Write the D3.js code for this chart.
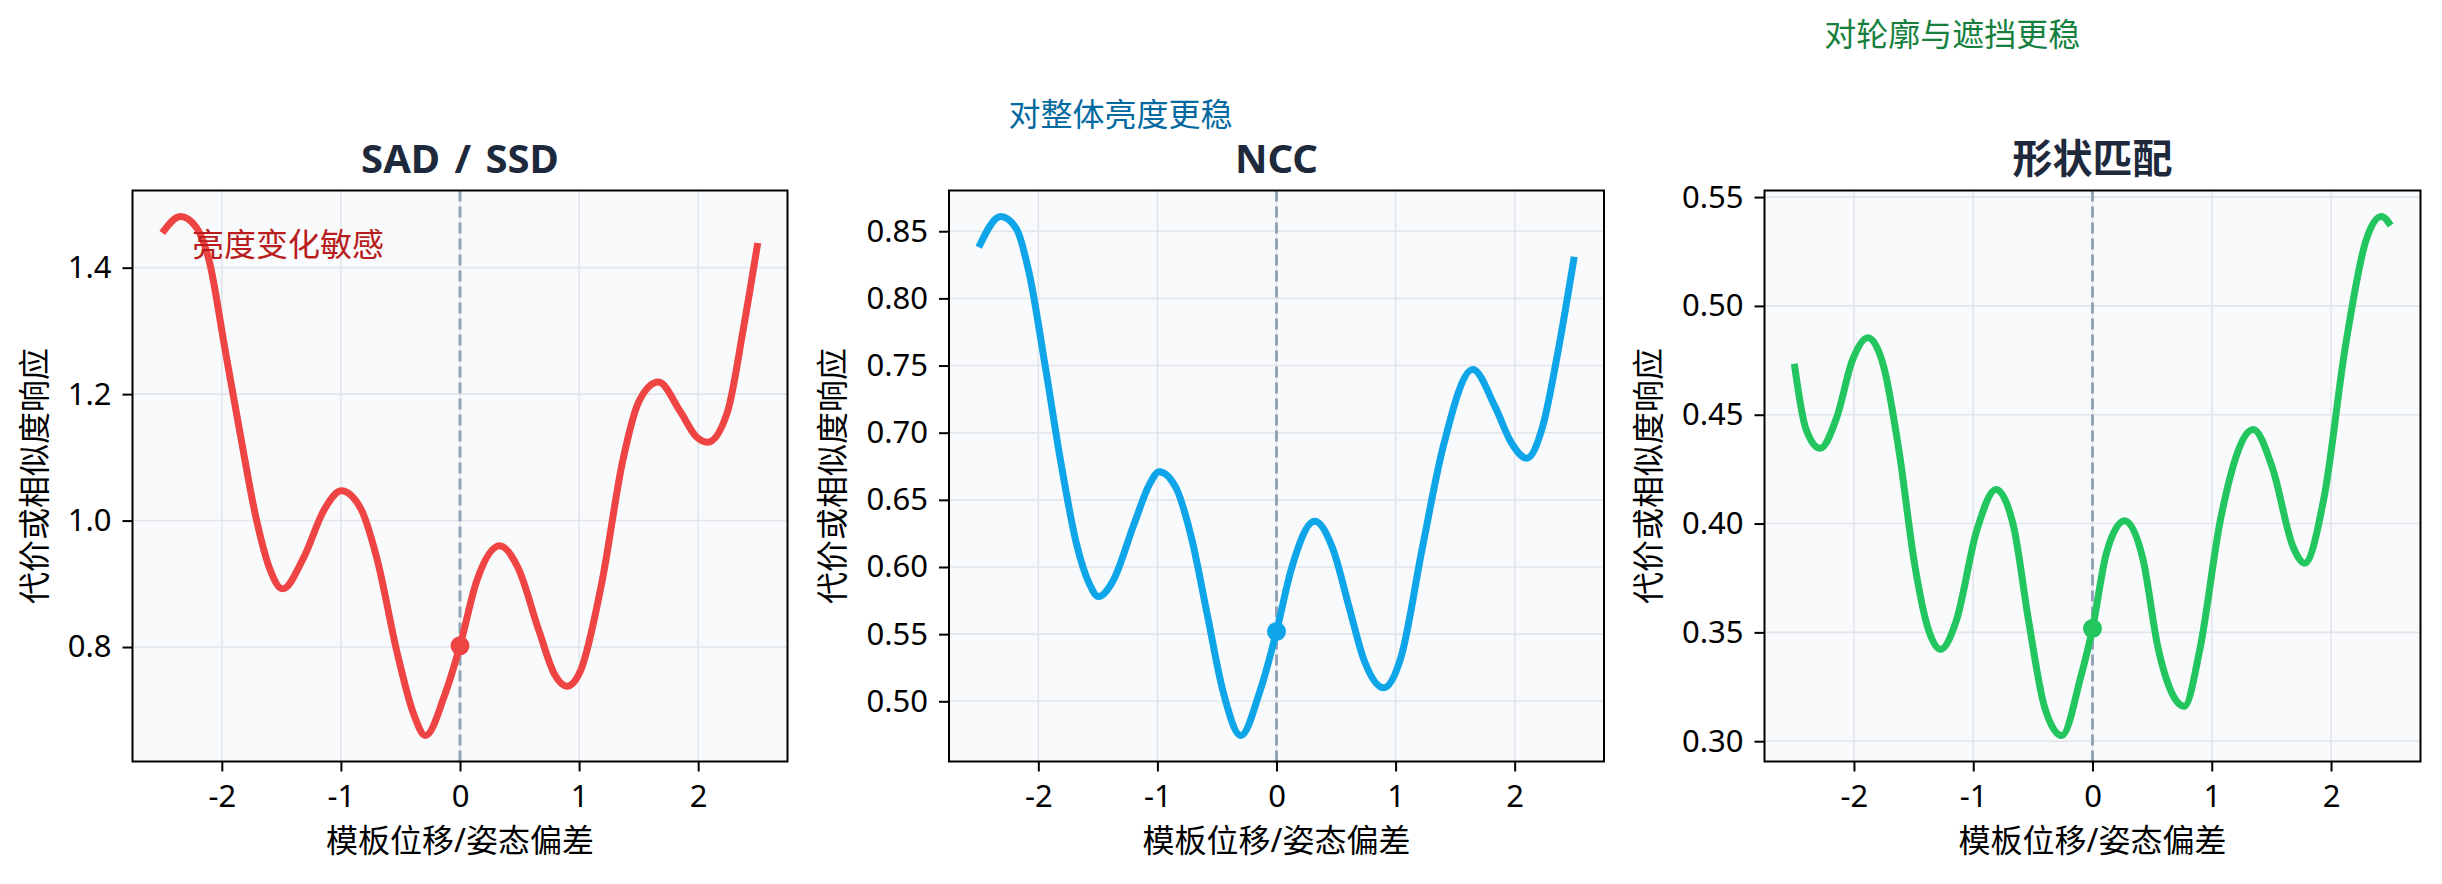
<!DOCTYPE html>
<html lang="zh">
<head>
    <meta charset="UTF-8">
    <title>匹配代价曲线</title>
    <script src="https://d3js.org/d3.v7.min.js"></script>
    <style>
        body { margin: 0; background: #fff; }
        text { font-family: "Noto Sans", "Noto Sans CJK SC", sans-serif; }
    </style>
</head>
<body>
<script>
    const width  = 2442;
    const height = 884;

    // values
    const xTicks = [-2, -1, 0, 1, 2];

    const sadX = [-2.5, -2.347, -2.215, -2.105, -1.974, -1.842, -1.71, -1.6, -1.49, -1.314, -1.138, -0.998,
                  -0.831, -0.699, -0.523, -0.391, -0.29, -0.127, 0, 0.136, 0.334, 0.488, 0.664, 0.796, 0.897,
                  1.015, 1.191, 1.367, 1.499, 1.666, 1.851, 1.982, 2.079, 2.246, 2.378, 2.5];
    const sadY = [1.455, 1.481, 1.464, 1.41, 1.272, 1.133, 1.002, 0.925, 0.892, 0.941, 1.018, 1.047,
                  1.018, 0.941, 0.787, 0.695, 0.66, 0.725, 0.802, 0.902, 0.96, 0.925, 0.825, 0.756, 0.738,
                  0.764, 0.902, 1.095, 1.187, 1.219, 1.172, 1.133, 1.124, 1.172, 1.302, 1.439];

    const nccX = [-2.5, -2.316, -2.185, -2.075, -1.943, -1.811, -1.679, -1.569, -1.495, -1.371, -1.196, -1.064,
                  -0.985, -0.844, -0.712, -0.58, -0.448, -0.299, -0.141, 0, 0.123, 0.321, 0.475, 0.607, 0.738,
                  0.901, 1.046, 1.222, 1.398, 1.648, 1.837, 1.969, 2.101, 2.233, 2.365, 2.5];
    const nccY = [0.838, 0.861, 0.852, 0.818, 0.75, 0.678, 0.617, 0.587, 0.578, 0.59, 0.632, 0.662,
                  0.671, 0.659, 0.621, 0.564, 0.507, 0.4745, 0.507, 0.552, 0.598, 0.634, 0.613, 0.571, 0.53,
                  0.51, 0.533, 0.613, 0.689, 0.747, 0.719, 0.693, 0.681, 0.704, 0.761, 0.831];

    const shapeX = [-2.5, -2.404, -2.283, -2.143, -2.013, -1.883, -1.752, -1.622, -1.491, -1.383, -1.274, -1.143,
                    -0.97, -0.809, -0.665, -0.535, -0.404, -0.257, -0.1, 0, 0.117, 0.27, 0.422, 0.552, 0.77,
                    0.9, 1.074, 1.348, 1.509, 1.683, 1.778, 1.943, 2.117, 2.291, 2.422, 2.5];
    const shapeY = [0.4734, 0.4437, 0.4346, 0.449, 0.475, 0.4854, 0.4724, 0.4333, 0.3812, 0.3526, 0.3422, 0.3552,
                    0.3969, 0.4156, 0.3995, 0.3552, 0.3161, 0.3026, 0.3292, 0.3518, 0.3865, 0.4013, 0.3839, 0.3422, 0.3161,
                    0.3422, 0.4021, 0.4432, 0.4255, 0.3891, 0.3818, 0.4125, 0.4802, 0.5297, 0.5411, 0.537];

    const titles  = ["SAD / SSD", "NCC", "形状匹配"];
    const notes   = ["亮度变化敏感", "对整体亮度更稳", "对轮廓与遮挡更稳"];
    const noteX   = [-2.25, -2.25, -2.25];
    const noteY   = [1.436, 0.937, 0.6245];
    const yTicks1 = [0.8, 1.0, 1.2, 1.4];
    const yTicks2 = [0.50, 0.55, 0.60, 0.65, 0.70, 0.75, 0.80, 0.85];
    const yTicks3 = [0.30, 0.35, 0.40, 0.45, 0.50, 0.55];

    const xLabel = "模板位移/姿态偏差";
    const yLabel = "代价或相似度响应";

    const panels = [
        {xs: sadX,   ys: sadY,   ticks: yTicks1, fmt: ".1f", color: "#ef4444", noteColor: "#b91c1c", left: 132.5,  right: 787.5},
        {xs: nccX,   ys: nccY,   ticks: yTicks2, fmt: ".2f", color: "#0ea5e9", noteColor: "#0369a1", left: 949,    right: 1604},
        {xs: shapeX, ys: shapeY, ticks: yTicks3, fmt: ".2f", color: "#22c55e", noteColor: "#15803d", left: 1764.5, right: 2420.5}
    ];
    const plotTop = 190.5, plotBottom = 761.5;

    const svg = d3.select("body")
            .append("svg")
            .attr("width", width)
            .attr("height", height);

    panels.forEach(function(p, k) {
        const pts = p.xs.map((x, i) => ({x: x, y: p.ys[i]}));

        const x = d3.scaleLinear()
                .domain([-2.75, 2.75])
                .range([p.left, p.right]);

        const ext = d3.extent(p.ys);
        const pad = (ext[1] - ext[0]) * 0.05;
        const y = d3.scaleLinear()
                .domain([ext[0] - pad, ext[1] + pad])
                .range([plotBottom, plotTop]);

        const g = svg.append("g");

        g.append("rect")
                .attr("x", p.left).attr("y", plotTop)
                .attr("width", p.right - p.left).attr("height", plotBottom - plotTop)
                .style("fill", "#f8fafc");

        // grid
        g.selectAll(".gx").data(xTicks).enter().append("line")
                .attr("x1", d => x(d)).attr("x2", d => x(d))
                .attr("y1", plotTop).attr("y2", plotBottom)
                .style("stroke", "#e2e5ea").style("stroke-width", 1.6);
        g.selectAll(".gy").data(p.ticks).enter().append("line")
                .attr("x1", p.left).attr("x2", p.right)
                .attr("y1", d => y(d)).attr("y2", d => y(d))
                .style("stroke", "#e2e5ea").style("stroke-width", 1.6);

        g.append("line")
                .attr("x1", x(0)).attr("x2", x(0))
                .attr("y1", plotBottom).attr("y2", plotTop)
                .style("stroke", "#94a3b8")
                .style("stroke-width", 3)
                .style("stroke-dasharray", "11,5");

        const line = d3.line()
                .x(d => x(d.x))
                .y(d => y(d.y))
                .curve(d3.curveMonotoneX);

        g.append("path")
                .datum(pts)
                .attr("d", line)
                .style("stroke", p.color)
                .style("stroke-width", 7)
                .style("fill", "none");

        const zero = pts.find(d => d.x === 0);
        g.append("circle")
                .attr("cx", x(zero.x)).attr("cy", y(zero.y))
                .attr("r", 9.5)
                .style("fill", p.color);

        g.append("rect")
                .attr("x", p.left).attr("y", plotTop)
                .attr("width", p.right - p.left).attr("height", plotBottom - plotTop)
                .style("fill", "none").style("stroke", "#000").style("stroke-width", 2);

        // axes
        const ax = g.append("g")
                .attr("transform", "translate(0," + plotBottom + ")")
                .call(d3.axisBottom(x).tickValues(xTicks).tickSize(10).tickPadding(13).tickFormat(d3.format("d")));
        const ay = g.append("g")
                .attr("transform", "translate(" + p.left + ",0)")
                .call(d3.axisLeft(y).tickValues(p.ticks).tickSize(10).tickPadding(11).tickFormat(d3.format(p.fmt)));

        [ax, ay].forEach(a => {
            a.select(".domain").remove();
            a.selectAll(".tick line").style("stroke", "#000").style("stroke-width", 2);
            a.selectAll(".tick text")
                    .style("font-size", "31px")
                    .style("fill", "#000")
                    .style("font-family", "'Noto Sans', 'Noto Sans CJK SC', sans-serif");
        });
        ax.selectAll(".tick text").text(d => d < 0 ? "-" + Math.abs(d) : d);

        g.append("text")
                .attr("x", (p.left + p.right) / 2)
                .attr("y", 852)
                .attr("text-anchor", "middle")
                .style("font-size", "32px")
                .style("fill", "#000")
                .text(xLabel);

        // bbox is in the axis group's own coordinates
        const bb = ay.node().getBBox();
        g.append("text")
                .attr("transform", "translate(" + (p.left + bb.x - 22) + "," + ((plotTop + plotBottom) / 2) + ") rotate(-90)")
                .attr("text-anchor", "middle")
                .style("font-size", "32px")
                .style("fill", "#000")
                .text(yLabel);

        g.append("text")
                .attr("x", (p.left + p.right) / 2)
                .attr("y", 173)
                .attr("text-anchor", "middle")
                .style("font-size", "40px")
                .style("font-weight", "bold")
                .style("word-spacing", "4px")
                .style("fill", "#1e293b")
                .text(titles[k]);

        g.append("text")
                .attr("x", x(noteX[k]))
                .attr("y", y(noteY[k]))
                .attr("dy", "0.36em")
                .style("font-size", "32px")
                .style("fill", p.noteColor)
                .text(notes[k]);
    });
</script>
</body>
</html>
